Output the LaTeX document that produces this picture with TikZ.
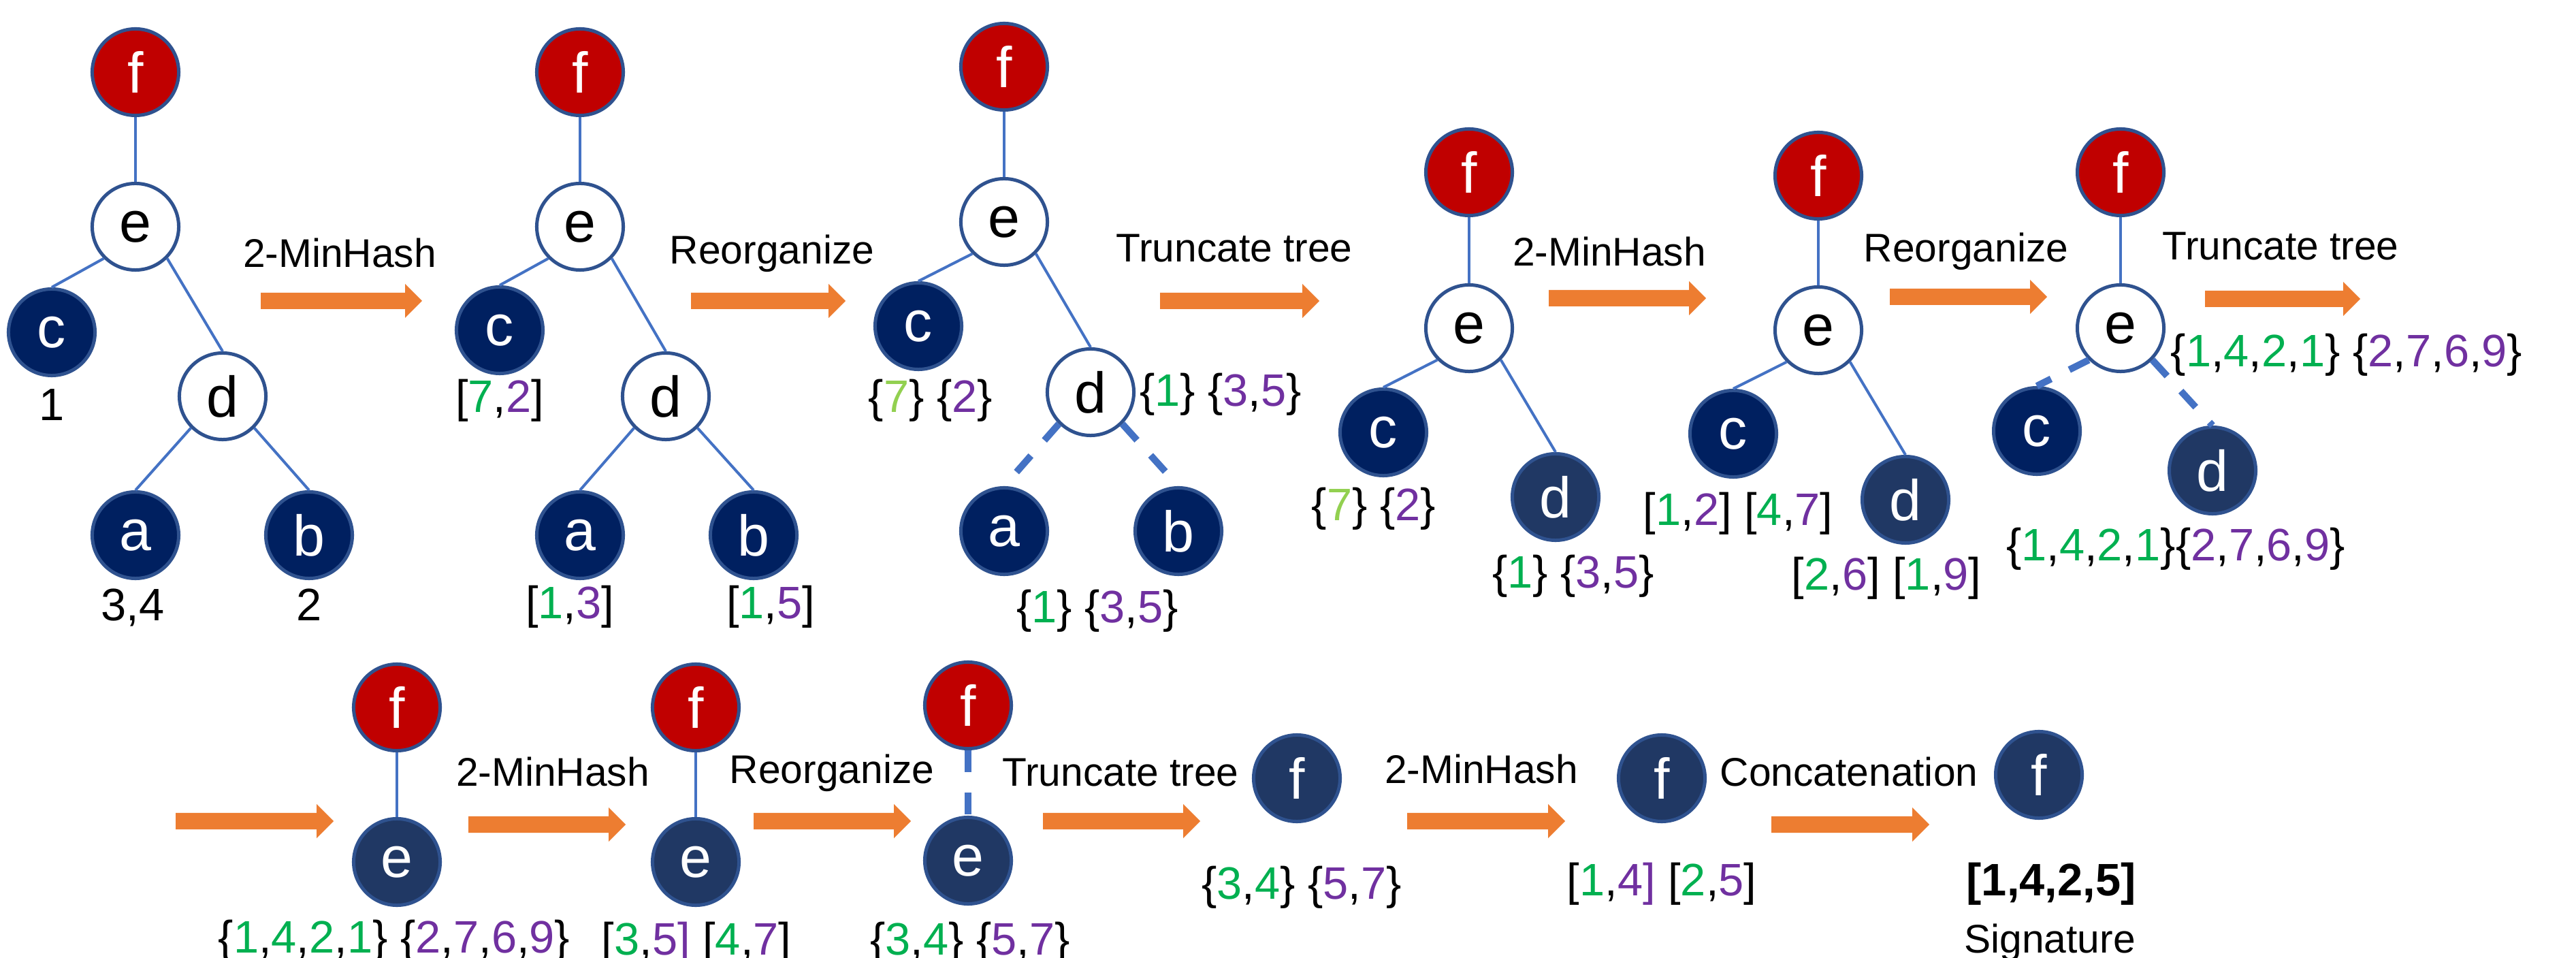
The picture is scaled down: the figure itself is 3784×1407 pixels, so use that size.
\documentclass[tikz,border=0pt]{standalone}
\usepackage{fontspec}
\setmainfont{Liberation Sans}
\definecolor{rootred}{HTML}{C00000}
\definecolor{leafnavy}{HTML}{002060}
\definecolor{slatenavy}{HTML}{203864}
\definecolor{rim}{HTML}{2F528F}
\definecolor{treeedge}{HTML}{4472C4}
\definecolor{flow}{HTML}{ED7D31}
\definecolor{hashgreen}{HTML}{00B050}
\definecolor{hashpurple}{HTML}{7030A0}
\definecolor{hashlime}{HTML}{92D050}
\newcommand\cgr[1]{\textcolor{hashgreen}{#1}}
\newcommand\cpu[1]{\textcolor{hashpurple}{#1}}
\newcommand\clg[1]{\textcolor{hashlime}{#1}}
% block arrow: start x, tip x, centre y (pixel units, y downwards)
\newcommand\flowarrow[3]{\fill[flow] (#1,#3-12) -- (#2-25,#3-12) -- (#2-25,#3-25) -- (#2,#3)
  -- (#2-25,#3+25) -- (#2-25,#3+12) -- (#1,#3+12) -- cycle;}
\begin{document}
\begin{tikzpicture}[x=0.01cm,y=-0.01cm,
  tn/.style={circle,minimum size=1.27cm,inner sep=0pt,draw=rim,line width=0.05cm,
    font=\fontsize{24}{28}\selectfont},
  rootnode/.style={tn,fill=rootred,text=white},
  leafnode/.style={tn,fill=leafnavy,text=white},
  slatenode/.style={tn,fill=slatenavy,text=white},
  opennode/.style={tn,fill=white,text=black},
  link/.style={draw=treeedge,line width=0.04cm},
  cutlink/.style={draw=treeedge,line width=0.1cm,dash pattern=on 0.32cm off 0.3cm},
  steplabel/.style={anchor=base,inner sep=0pt,font=\fontsize{16.7}{20}\selectfont},
  val/.style={anchor=base,inner sep=0pt,font=\fontsize{19}{22}\selectfont}]
\useasboundingbox (0,0) rectangle (3784,1407);
\fill[white] (0,0) rectangle (3784,1407);

% ---------- tree 1: input ----------
\node[rootnode] (f1) at (199,106) {f};
\node[opennode] (e1) at (199,333) {e};
\node[leafnode] (c1) at (76,488) {c};
\node[opennode] (d1) at (327,582) {d};
\node[leafnode] (a1) at (199,786) {a};
\node[leafnode] (b1) at (454,786) {b};
\draw[link] (f1.south) -- (e1.north);
\draw[link] (e1.225) -- (c1.north);
\draw[link] (e1.-45) -- (d1.north);
\draw[link] (d1.225) -- (a1.north);
\draw[link] (d1.-45) -- (b1.north);
\node[val] (v1c) at (76,618) {1};
\node[val] (v1a) at (195,912) {3,4};
\node[val] (v1b) at (454,912) {2};

\node[steplabel] (s1) at (499,393) {2-MinHash};
\flowarrow{383}{620}{442}

% ---------- tree 2 ----------
\node[rootnode] (f2) at (852,106) {f};
\node[opennode] (e2) at (852,333) {e};
\node[leafnode] (c2) at (734,485) {c};
\node[opennode] (d2) at (978,582) {d};
\node[leafnode] (a2) at (852,786) {a};
\node[leafnode] (b2) at (1107,786) {b};
\draw[link] (f2.south) -- (e2.north);
\draw[link] (e2.225) -- (c2.north);
\draw[link] (e2.-45) -- (d2.north);
\draw[link] (d2.225) -- (a2.north);
\draw[link] (d2.-45) -- (b2.north);
\node[val] (v2c) at (734,606) {[\cgr{7},\cpu{2}]};
\node[val] (v2a) at (837,909) {[\cgr{1},\cpu{3}]};
\node[val] (v2b) at (1132,909) {[\cgr{1},\cpu{5}]};

\node[steplabel] (s2) at (1134,388) {Reorganize};
\flowarrow{1015}{1242}{442}

% ---------- tree 3 ----------
\node[rootnode] (f3) at (1475,98) {f};
\node[opennode] (e3) at (1475,326) {e};
\node[leafnode] (c3) at (1349,479) {c};
\node[opennode] (d3) at (1602,576) {d};
\node[leafnode] (a3) at (1475,780) {a};
\node[leafnode] (b3) at (1731,780) {b};
\draw[link] (f3.south) -- (e3.north);
\draw[link] (e3.225) -- (c3.north);
\draw[link] (e3.-45) -- (d3.north);
\draw[cutlink] (d3.225) -- (a3.north);
\draw[cutlink] (d3.-45) -- (b3.north);
\node[val] (v3c) at (1367,606) {\{\clg{7}\} \{\cpu{2}\}};
\node[val] (v3d) at (1793,597) {\{\cgr{1}\} \{\cpu{3},\cpu{5}\}};
\node[val] (v3ab) at (1612,915) {\{\cgr{1}\} \{\cpu{3},\cpu{5}\}};

\node[steplabel] (s3) at (1813,385) {Truncate tree};
\flowarrow{1704}{1938}{442}

% ---------- tree 4 ----------
\node[rootnode] (f4) at (2158,253) {f};
\node[opennode] (e4) at (2158,482) {e};
\node[leafnode] (c4) at (2032,635) {c};
\node[slatenode] (d4) at (2285,730) {d};
\draw[link] (f4.south) -- (e4.north);
\draw[link] (e4.225) -- (c4.north);
\draw[link] (e4.-45) -- (d4.north);
\node[val] (v4c) at (2018,765) {\{\clg{7}\} \{\cpu{2}\}};
\node[val] (v4d) at (2311,864) {\{\cgr{1}\} \{\cpu{3},\cpu{5}\}};

\node[steplabel] (s4) at (2364,391) {2-MinHash};
\flowarrow{2275}{2506}{438}

% ---------- tree 5 ----------
\node[rootnode] (f5) at (2671,258) {f};
\node[opennode] (e5) at (2671,485) {e};
\node[leafnode] (c5) at (2546,637) {c};
\node[slatenode] (d5) at (2799,734) {d};
\draw[link] (f5.south) -- (e5.north);
\draw[link] (e5.225) -- (c5.north);
\draw[link] (e5.-45) -- (d5.north);
\node[val] (v5c) at (2553,772) {[\cgr{1},\cpu{2}] [\cgr{4},\cpu{7}]};
\node[val] (v5d) at (2771,867) {[\cgr{2},\cpu{6}] [\cgr{1},\cpu{9}]};

\node[steplabel] (s5) at (2888,385) {Reorganize};
\flowarrow{2776}{3007}{436}

% ---------- tree 6 ----------
\node[rootnode] (f6) at (3115,253) {f};
\node[opennode] (e6) at (3115,482) {e};
\node[leafnode] (c6) at (2992,633) {c};
\node[slatenode] (d6) at (3250,691) {d};
\draw[link] (f6.south) -- (e6.north);
\draw[cutlink] (e6.225) -- (c6.north);
\draw[cutlink] (e6.-45) -- (d6.north);
\node[val] (v6cd) at (3196,824) {\{\cgr{1},\cgr{4},\cgr{2},\cgr{1}\}\{\cpu{2},\cpu{7},\cpu{6},\cpu{9}\}};
\node[val] (v6e) at (3447,539) {\{\cgr{1},\cgr{4},\cgr{2},\cgr{1}\} \{\cpu{2},\cpu{7},\cpu{6},\cpu{9}\}};

\node[steplabel] (s6) at (3350,382) {Truncate tree};
\flowarrow{3239}{3467}{439}

% ---------- second row ----------
\flowarrow{258}{490}{1206}
\node[rootnode] (f7) at (583,1039) {f};
\node[slatenode] (e7) at (583,1266) {e};
\draw[link] (f7.south) -- (e7.north);
\node[val] (v7) at (579,1399) {\{\cgr{1},\cgr{4},\cgr{2},\cgr{1}\} \{\cpu{2},\cpu{7},\cpu{6},\cpu{9}\}};

\node[steplabel] (s7) at (812,1155) {2-MinHash};
\flowarrow{688}{919}{1211}

\node[rootnode] (f8) at (1022,1039) {f};
\node[slatenode] (e8) at (1022,1266) {e};
\draw[link] (f8.south) -- (e8.north);
\node[val] (v8) at (1023,1402) {[\cgr{3},\cpu{5]} [\cgr{4},\cpu{7}]};

\node[steplabel] (s8) at (1222,1150) {Reorganize};
\flowarrow{1107}{1338}{1206}

\node[rootnode] (f9) at (1422,1036) {f};
\node[slatenode] (e9) at (1422,1264) {e};
\draw[cutlink] (f9.south) -- (e9.north);
\node[val] (v9) at (1425,1402) {\{\cgr{3},\cgr{4}\} \{\cpu{5},\cpu{7}\}};

\node[steplabel] (s9) at (1646,1155) {Truncate tree};
\flowarrow{1532}{1763}{1206}

\node[slatenode] (f10) at (1905,1143) {f};
\node[val] (v10) at (1912,1320) {\{\cgr{3},\cgr{4}\} \{\cpu{5},\cpu{7}\}};

\node[steplabel] (s10) at (2176,1150) {2-MinHash};
\flowarrow{2067}{2299}{1206}

\node[slatenode] (f11) at (2441,1143) {f};
\node[val] (v11) at (2441,1315) {[\cgr{1},\cpu{4]} [\cgr{2},\cpu{5}]};

\node[steplabel] (s11) at (2716,1155) {Concatenation};
\flowarrow{2602}{2834}{1211}

\node[slatenode] (f12) at (2995,1138) {f};
\node[val,font=\fontsize{19}{22}\selectfont\bfseries] (sig) at (3013,1315) {[1,4,2,5]};
\node[steplabel] (signame) at (3011,1399) {Signature};
\end{tikzpicture}
\end{document}
